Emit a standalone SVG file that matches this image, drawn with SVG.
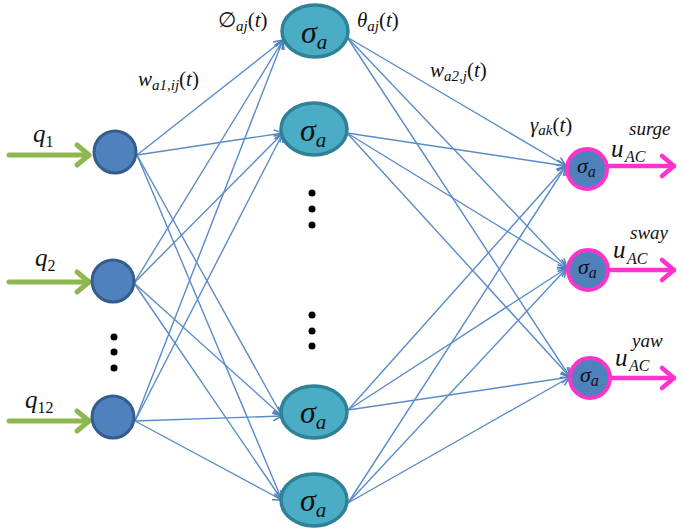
<svg xmlns="http://www.w3.org/2000/svg" width="685" height="532" viewBox="0 0 685 532">
<defs>
<marker id="ab" markerUnits="userSpaceOnUse" markerWidth="12" markerHeight="12" refX="10" refY="5" orient="auto" overflow="visible">
<path d="M1,0.5 L10,5 L1,9.5" fill="none" stroke="#4f81bd" stroke-width="1.5" stroke-linejoin="miter"/>
</marker>
<marker id="ag" markerUnits="userSpaceOnUse" markerWidth="20" markerHeight="24" refX="16" refY="12" orient="auto" overflow="visible">
<path d="M4,2 L16,12 L4,22" fill="none" stroke="#8fb750" stroke-width="5" stroke-linecap="round" stroke-linejoin="round"/>
</marker>
<marker id="am" markerUnits="userSpaceOnUse" markerWidth="20" markerHeight="24" refX="16" refY="12" orient="auto" overflow="visible">
<path d="M4,2 L16,12 L4,22" fill="none" stroke="#ff33cc" stroke-width="4.5" stroke-linecap="round" stroke-linejoin="round"/>
</marker>
</defs>
<style>
.c{fill:none;stroke:#5a8bc8;stroke-width:1.4}
.in{fill:#4f81bd;stroke:#345c8c;stroke-width:3}
.hid{fill:#4bacc6;stroke:#2f8196;stroke-width:3.5}
.out{fill:#4f81bd;stroke:#ff33cc;stroke-width:4}
.g{stroke:#8fb750;stroke-width:5;stroke-linecap:round}
.m{stroke:#ff33cc;stroke-width:4.5;stroke-linecap:round}
.t{font-family:"Liberation Serif","DejaVu Serif",serif;font-style:italic;fill:#111}
.dot{fill:#000}
</style>

<g id="connectors">
<path class="c" marker-end="url(#ab)" d="M137,155 L283,40"/>
<path class="c" marker-end="url(#ab)" d="M137,155 L283,133"/>
<path class="c" marker-end="url(#ab)" d="M137,155 L282,416"/>
<path class="c" marker-end="url(#ab)" d="M137,155 L282,500"/>
<path class="c" marker-end="url(#ab)" d="M134,283 L283,40"/>
<path class="c" marker-end="url(#ab)" d="M134,283 L283,133"/>
<path class="c" marker-end="url(#ab)" d="M134,283 L282,416"/>
<path class="c" marker-end="url(#ab)" d="M134,283 L282,500"/>
<path class="c" marker-end="url(#ab)" d="M135,421 L283,40"/>
<path class="c" marker-end="url(#ab)" d="M135,421 L283,133"/>
<path class="c" marker-end="url(#ab)" d="M135,421 L282,416"/>
<path class="c" marker-end="url(#ab)" d="M135,421 L282,500"/>
<path class="c" marker-end="url(#ab)" d="M347,37 L566,166"/>
<path class="c" marker-end="url(#ab)" d="M347,37 L567,268"/>
<path class="c" marker-end="url(#ab)" d="M347,37 L570,377"/>
<path class="c" marker-end="url(#ab)" d="M347,133 L566,166"/>
<path class="c" marker-end="url(#ab)" d="M347,133 L567,268"/>
<path class="c" marker-end="url(#ab)" d="M347,133 L570,377"/>
<path class="c" marker-end="url(#ab)" d="M348,410 L566,166"/>
<path class="c" marker-end="url(#ab)" d="M348,410 L567,268"/>
<path class="c" marker-end="url(#ab)" d="M348,410 L570,377"/>
<path class="c" marker-end="url(#ab)" d="M348,503 L566,166"/>
<path class="c" marker-end="url(#ab)" d="M348,503 L567,268"/>
<path class="c" marker-end="url(#ab)" d="M348,503 L570,377"/>
<line class="g" x1="9" y1="155" x2="89" y2="155" marker-end="url(#ag)"/>
<line class="g" x1="9" y1="282" x2="89" y2="282" marker-end="url(#ag)"/>
<line class="g" x1="9" y1="421" x2="89" y2="421" marker-end="url(#ag)"/>
<line class="m" x1="608" y1="166" x2="674" y2="166" marker-end="url(#am)"/>
<line class="m" x1="610" y1="270" x2="674" y2="270" marker-end="url(#am)"/>
<line class="m" x1="612" y1="378" x2="674" y2="378" marker-end="url(#am)"/>
</g>

<g id="in1"><circle class="in" cx="115" cy="152" r="21"/></g>
<g id="in2"><circle class="in" cx="113" cy="281" r="21"/></g>
<g id="in12"><circle class="in" cx="113" cy="417" r="21"/></g>

<g id="h1"><ellipse class="hid" cx="315" cy="31" rx="33" ry="26"/><text class="t" x="301" y="43" font-size="32">σ<tspan font-size="21" dy="6">a</tspan></text></g>
<g id="h2"><ellipse class="hid" cx="314" cy="129" rx="33" ry="26"/><text class="t" x="300" y="141" font-size="32">σ<tspan font-size="21" dy="6">a</tspan></text></g>
<g id="h3"><ellipse class="hid" cx="314" cy="412" rx="33" ry="26"/><text class="t" x="300" y="423" font-size="32">σ<tspan font-size="21" dy="6">a</tspan></text></g>
<g id="h4"><ellipse class="hid" cx="314" cy="500" rx="33" ry="26"/><text class="t" x="300" y="511" font-size="32">σ<tspan font-size="21" dy="6">a</tspan></text></g>

<g id="o1"><circle class="out" cx="587" cy="169" r="20"/><text class="t" x="577" y="173" font-size="22">σ<tspan font-size="16" dy="4">a</tspan></text></g>
<g id="o2"><circle class="out" cx="588" cy="270" r="20"/><text class="t" x="578" y="274" font-size="22">σ<tspan font-size="16" dy="4">a</tspan></text></g>
<g id="o3"><circle class="out" cx="590" cy="378" r="20"/><text class="t" x="580" y="382" font-size="22">σ<tspan font-size="16" dy="4">a</tspan></text></g>

<g id="dots">
<circle class="dot" cx="114" cy="337" r="3.5"/><circle class="dot" cx="114" cy="352" r="3.5"/><circle class="dot" cx="114" cy="368" r="3.5"/>
<circle class="dot" cx="312" cy="193" r="3.5"/><circle class="dot" cx="312" cy="209" r="3.5"/><circle class="dot" cx="312" cy="225" r="3.5"/>
<circle class="dot" cx="312" cy="315" r="3.5"/><circle class="dot" cx="312" cy="331" r="3.5"/><circle class="dot" cx="312" cy="346" r="3.5"/>
</g>

<g id="labels">
<text class="t" x="33" y="142" font-size="25">q<tspan font-size="16" dy="5" font-style="normal">1</tspan></text>
<text class="t" x="35" y="266" font-size="25">q<tspan font-size="16" dy="5" font-style="normal">2</tspan></text>
<text class="t" x="25" y="408" font-size="25">q<tspan font-size="16" dy="5" font-style="normal">12</tspan></text>
<text class="t" x="138" y="86" font-size="21">w<tspan font-size="15" dy="4">a1,ij</tspan><tspan dy="-4" font-style="normal">(</tspan>t<tspan font-style="normal">)</tspan></text>
<text class="t" x="218" y="27" font-size="21"><tspan font-style="normal">∅</tspan><tspan font-size="15" dy="4">aj</tspan><tspan dy="-4" font-style="normal">(</tspan>t<tspan font-style="normal">)</tspan></text>
<text class="t" x="357" y="27" font-size="21">θ<tspan font-size="15" dy="4">aj</tspan><tspan dy="-4" font-style="normal">(</tspan>t<tspan font-style="normal">)</tspan></text>
<text class="t" x="430" y="77" font-size="21">w<tspan font-size="15" dy="4">a2,j</tspan><tspan dy="-4" font-style="normal">(</tspan>t<tspan font-style="normal">)</tspan></text>
<text class="t" x="530" y="132" font-size="21">γ<tspan font-size="15" dy="3">ak</tspan><tspan dy="-3" font-style="normal">(</tspan>t<tspan font-style="normal">)</tspan></text>
<text class="t" x="611" y="157" font-size="25">u</text>
<text class="t" x="629" y="135" font-size="19">surge</text>
<text class="t" x="625" y="162" font-size="16">AC</text>
<text class="t" x="613" y="258" font-size="25">u</text>
<text class="t" x="630" y="239" font-size="19">sway</text>
<text class="t" x="627" y="264" font-size="16">AC</text>
<text class="t" x="615" y="366" font-size="25">u</text>
<text class="t" x="632" y="347" font-size="19">yaw</text>
<text class="t" x="629" y="371" font-size="16">AC</text>
</g>
</svg>
